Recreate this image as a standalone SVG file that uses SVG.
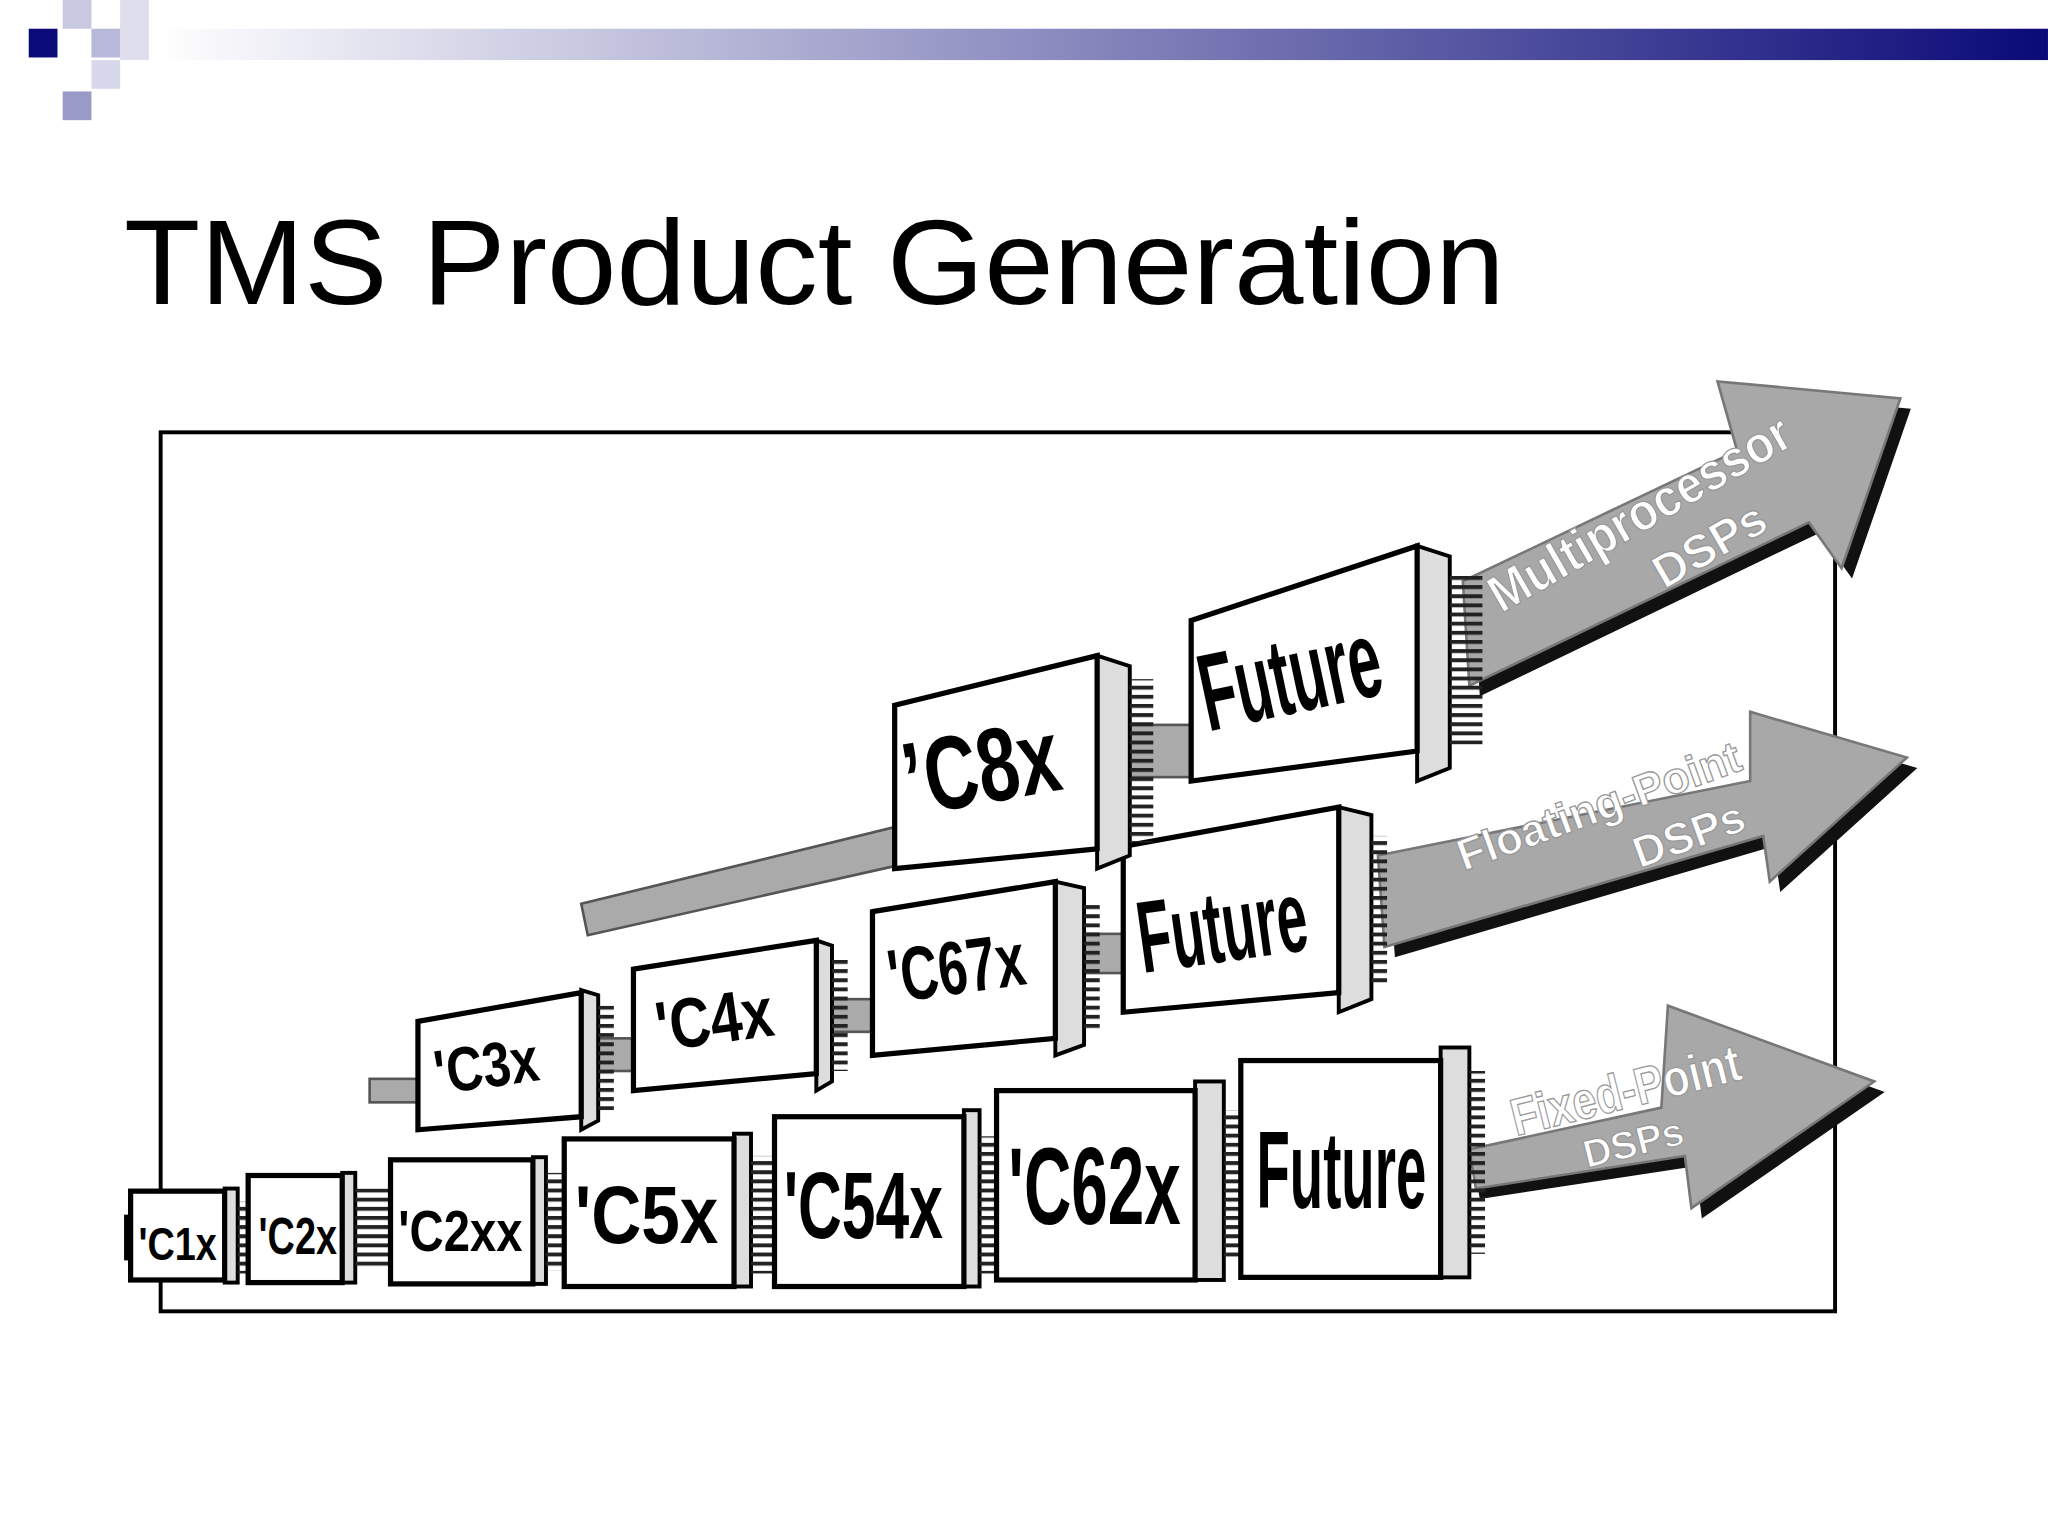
<svg xmlns="http://www.w3.org/2000/svg" width="2048" height="1536" viewBox="0 0 2048 1536">
<defs>
<linearGradient id="hb" x1="0" x2="1" y1="0" y2="0"><stop offset="0" stop-color="#ffffff"/><stop offset="1" stop-color="#0a0a78"/></linearGradient>
<pattern id="pins" width="4" height="7" patternUnits="userSpaceOnUse"><rect width="4" height="3" fill="#222"/></pattern>
</defs>
<style>
.face{fill:#fff;stroke:#000;stroke-width:4}
.side{fill:#ddd;stroke:#000;stroke-width:3}
.band{fill:#aaa;stroke:#555;stroke-width:2}
.lab{font-family:"Liberation Sans",Arial,sans-serif;font-weight:bold;fill:#000}
.arrow{fill:#a8a8a8;stroke:#777;stroke-width:2}
.ash{fill:#111}
.alab{font-family:"Liberation Sans",Arial,sans-serif;font-weight:bold;fill:#fff;stroke:#999;stroke-width:1;text-anchor:middle}
</style>
<rect width="2048" height="1536" fill="#fff"/>
<g transform="scale(1.3061)">
<g id="header">
<rect x="120" y="22" width="1448" height="24" fill="url(#hb)"/>
<rect x="22" y="22" width="22" height="22" fill="#0a0a78"/>
<rect x="48" y="0" width="22" height="22" fill="#c8c8e0"/>
<rect x="70" y="22" width="22" height="22" fill="#b8b8d8"/>
<rect x="48" y="70" width="22" height="22" fill="#9a9ac8"/>
<rect x="70" y="46" width="22" height="22" fill="#d8d8ec"/>
<rect x="92" y="0" width="22" height="46" fill="#c8c8e0" opacity="0.6"/>
</g>
<text x="95" y="233" font-family="Liberation Sans,Arial,sans-serif" font-size="92" fill="#000" textLength="1057" lengthAdjust="spacingAndGlyphs">TMS Product Generation</text>
<rect x="123" y="331" width="1282" height="673" fill="#fff" stroke="#000" stroke-width="3"/>

<g id="connectors">
<polygon class="ash" points="1128,888 1278,856 1283,778 1443,836 1303,933 1298,893 1133,918"/>
<polygon class="arrow" points="1125,880 1272,848 1277,770 1435,828 1295,925 1290,885 1130,910"/>
<polygon class="ash" points="1063,663 1348,606 1348,553 1468,588 1363,683 1358,648 1068,733"/>
<polygon class="arrow" points="1055,655 1340,598 1340,545 1460,580 1355,675 1350,640 1060,725"/>
<polygon class="ash" points="1128,453 1338,353 1323,300 1463,313 1418,443 1393,408 1133,533"/>
<polygon class="arrow" points="1120,445 1330,345 1315,292 1455,305 1410,435 1385,400 1125,525"/>
<polygon class="band" points="445,692 690,632 690,662 450,716"/>
<rect class="band" x="283" y="826" width="40" height="18"/>
<rect class="band" x="458" y="795" width="30" height="25"/>
<rect class="band" x="637" y="765" width="32" height="25"/>
<rect class="band" x="830" y="715" width="32" height="30"/>
<rect class="band" x="865" y="555" width="50" height="40"/>
<text class="alab" font-size="40" transform="translate(1262,405) rotate(-30)" textLength="260" lengthAdjust="spacingAndGlyphs">Multiprocessor</text>
<text class="alab" font-size="36" transform="translate(1315,428) rotate(-30)">DSPs</text>
<text class="alab" font-size="34" transform="translate(1228,628) rotate(-20)">Floating-Point</text>
<text class="alab" font-size="34" transform="translate(1297,650) rotate(-20)">DSPs</text>
<text class="alab" font-size="40" transform="translate(1248,848) rotate(-14)" textLength="180" lengthAdjust="spacingAndGlyphs">Fixed-Point</text>
<text class="alab" font-size="30" transform="translate(1253,885) rotate(-14)">DSPs</text>
</g>

<g id="c1x"><rect x="172" y="910" width="10" height="72" class="side"/><rect x="182" y="920" width="8" height="55" fill="url(#pins)"/><rect x="95" y="930" width="6" height="35" fill="#000"/><rect class="face" x="100" y="912" width="72" height="68"/><text class="lab" x="106" y="965" font-size="36" textLength="60" lengthAdjust="spacingAndGlyphs">'C1x</text></g>
<g id="c2x"><rect x="262" y="898" width="10" height="84" class="side"/><rect x="272" y="910" width="27" height="62" fill="url(#pins)"/><rect class="face" x="190" y="900" width="72" height="82"/><text class="lab" x="198" y="960" font-size="40" textLength="60" lengthAdjust="spacingAndGlyphs">'C2x</text></g>
<g id="c2xx"><rect x="408" y="886" width="10" height="97" class="side"/><rect x="418" y="898" width="14" height="75" fill="url(#pins)"/><rect class="face" x="299" y="888" width="109" height="95"/><text class="lab" x="305" y="958" font-size="44" textLength="95" lengthAdjust="spacingAndGlyphs">'C2xx</text></g>
<g id="c5x"><rect x="562" y="868" width="13" height="117" class="side"/><rect x="575" y="885" width="18" height="90" fill="url(#pins)"/><rect class="face" x="432" y="872" width="130" height="113"/><text class="lab" x="440" y="952" font-size="62" textLength="110" lengthAdjust="spacingAndGlyphs">'C5x</text></g>
<g id="c54x"><rect x="738" y="850" width="12" height="135" class="side"/><rect x="750" y="870" width="13" height="105" fill="url(#pins)"/><rect class="face" x="593" y="855" width="145" height="130"/><text class="lab" x="600" y="948" font-size="72" textLength="122" lengthAdjust="spacingAndGlyphs">'C54x</text></g>
<g id="c62x"><rect x="915" y="828" width="22" height="152" class="side"/><rect x="937" y="850" width="13" height="115" fill="url(#pins)"/><rect class="face" x="763" y="835" width="152" height="145"/><text class="lab" x="772" y="937" font-size="84" textLength="132" lengthAdjust="spacingAndGlyphs">'C62x</text></g>
<g id="future1"><rect x="1103" y="802" width="22" height="176" class="side"/><rect x="1125" y="820" width="12" height="140" fill="url(#pins)"/><rect class="face" x="950" y="812" width="153" height="166"/><text class="lab" x="962" y="925" font-size="84" textLength="130" lengthAdjust="spacingAndGlyphs">Future</text></g>

<g id="c3x"><polygon class="side" points="445,758 458,762 458,858 445,865"/><rect x="458" y="770" width="12" height="80" fill="url(#pins)"/><polygon class="face" points="320,782 445,760 445,855 320,865"/><text class="lab" font-size="48" transform="translate(335,838) rotate(-8)" textLength="80" lengthAdjust="spacingAndGlyphs">'C3x</text></g>
<g id="c4x"><polygon class="side" points="625,720 637,724 637,828 625,835"/><rect x="637" y="735" width="12" height="85" fill="url(#pins)"/><polygon class="face" points="485,742 625,720 625,822 485,835"/><text class="lab" font-size="54" transform="translate(505,805) rotate(-8)" textLength="90" lengthAdjust="spacingAndGlyphs">'C4x</text></g>
<g id="c67x"><polygon class="side" points="808,675 830,680 830,800 808,808"/><rect x="830" y="690" width="12" height="100" fill="url(#pins)"/><polygon class="face" points="668,698 808,675 808,795 668,808"/><text class="lab" font-size="58" transform="translate(683,768) rotate(-8)" textLength="105" lengthAdjust="spacingAndGlyphs">'C67x</text></g>
<g id="future2"><polygon class="side" points="1025,618 1050,624 1050,765 1025,775"/><rect x="1050" y="640" width="12" height="115" fill="url(#pins)"/><polygon class="face" points="860,648 1025,618 1025,760 860,775"/><text class="lab" font-size="78" transform="translate(875,745) rotate(-8)" textLength="130" lengthAdjust="spacingAndGlyphs">Future</text></g>

<g id="c8x"><polygon class="side" points="840,502 865,510 865,655 840,665"/><rect x="865" y="520" width="18" height="125" fill="url(#pins)"/><polygon class="face" points="685,540 840,502 840,650 685,665"/><text class="lab" font-size="80" transform="translate(697,625) rotate(-10)" textLength="120" lengthAdjust="spacingAndGlyphs">’C8x</text></g>
<g id="future3"><polygon class="side" points="1085,418 1110,426 1110,588 1085,598"/><rect x="1110" y="440" width="25" height="130" fill="url(#pins)"/><polygon class="face" points="912,475 1085,418 1085,575 912,598"/><text class="lab" font-size="84" transform="translate(925,560) rotate(-12)" textLength="140" lengthAdjust="spacingAndGlyphs">Future</text></g>
</g>
</svg>
